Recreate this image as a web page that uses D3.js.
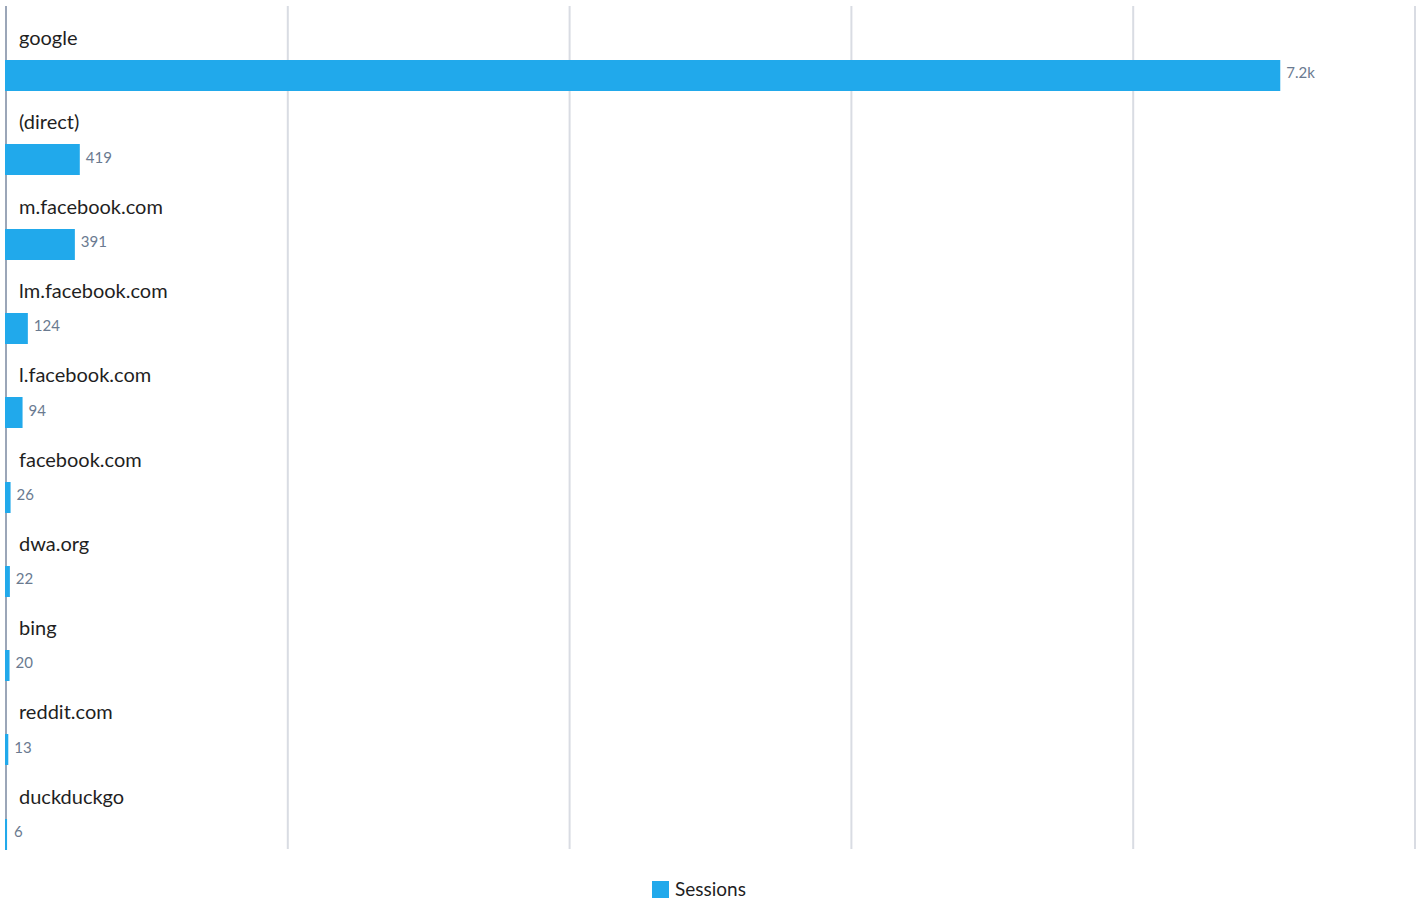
<!DOCTYPE html>
<html>
<head>
<meta charset="utf-8">
<script src="https://cdn.jsdelivr.net/npm/d3@7"></script>
<style>
  body { margin: 0; background: #fff; }
  svg text { font-family: "Lato", "Noto Sans", sans-serif; }
</style>
</head>
<body>
<div id="chart"></div>
<script>
var sources = ["google", "(direct)", "m.facebook.com", "lm.facebook.com", "l.facebook.com",
  "facebook.com", "dwa.org", "bing", "reddit.com", "duckduckgo"];
var sessions = [7235, 419, 391, 124, 94, 26, 22, 20, 13, 6];
var gridTicks = [0, 1600, 3200, 4800, 6400, 8000];

var svgWidth = 1423;
var svgHeight = 899;
var margin = { top: 6, right: 8, bottom: 50, left: 6 };
var width = svgWidth - margin.left - margin.right;
var height = svgHeight - margin.top - margin.bottom;

var data = sources.map(function(s, i) { return { source: s, value: sessions[i] }; });

var svg = d3.select("#chart")
  .append("svg")
  .attr("width", svgWidth)
  .attr("height", svgHeight);

var chartGroup = svg.append("g")
  .attr("transform", `translate(${margin.left}, ${margin.top})`);

var xScale = d3.scaleLinear()
  .domain([0, 8000])
  .range([0, width]);

var yScale = d3.scaleBand()
  .domain(sources)
  .range([0, height]);

var barHeight = 31;

// vertical gridlines
chartGroup.selectAll("line.grid")
  .data(gridTicks.slice(1))
  .enter()
  .append("line")
  .attr("class", "grid")
  .attr("x1", d => xScale(d))
  .attr("x2", d => xScale(d))
  .attr("y1", 0)
  .attr("y2", height)
  .attr("stroke", "#d9dce3")
  .attr("stroke-width", 2);

// axis line
chartGroup.append("line")
  .attr("x1", 0).attr("x2", 0)
  .attr("y1", 0).attr("y2", height)
  .attr("stroke", "#9ba6b8")
  .attr("stroke-width", 2);

chartGroup.selectAll("rect.bar")
  .data(data)
  .enter()
  .append("rect")
  .attr("class", "bar")
  .attr("x", xScale(0) - 1)
  .attr("y", d => Math.round(yScale(d.source) + yScale.bandwidth() - barHeight + 0.7))
  .attr("width", d => Math.max(xScale(d.value) + 1, 2))
  .attr("height", barHeight)
  .attr("fill", "#21a9eb");

chartGroup.selectAll("text.cat")
  .data(data)
  .enter()
  .append("text")
  .attr("class", "cat")
  .attr("x", 13)
  .attr("y", d => yScale(d.source) + 39)
  .attr("font-size", "20px")
  .attr("fill", "#1f1f1f")
  .text(d => d.source);

chartGroup.selectAll("text.val")
  .data(data)
  .enter()
  .append("text")
  .attr("class", "val")
  .attr("x", d => Math.max(xScale(d.value), 2) + 6)
  .attr("y", d => yScale(d.source) + yScale.bandwidth() - barHeight / 2 - 1)
  .attr("dy", "0.3em")
  .attr("font-size", "15px")
  .attr("fill", "#6a7a90")
  .text(d => d.value >= 1000 ? d3.format(".2s")(d.value) : d.value);

// legend
var legend = svg.append("g")
  .attr("transform", `translate(652, 881)`);
legend.append("rect")
  .attr("width", 17)
  .attr("height", 17)
  .attr("fill", "#21a9eb");
legend.append("text")
  .attr("x", 23)
  .attr("y", 15)
  .attr("font-size", "19px")
  .attr("fill", "#1f1f1f")
  .text("Sessions");
</script>
</body>
</html>
